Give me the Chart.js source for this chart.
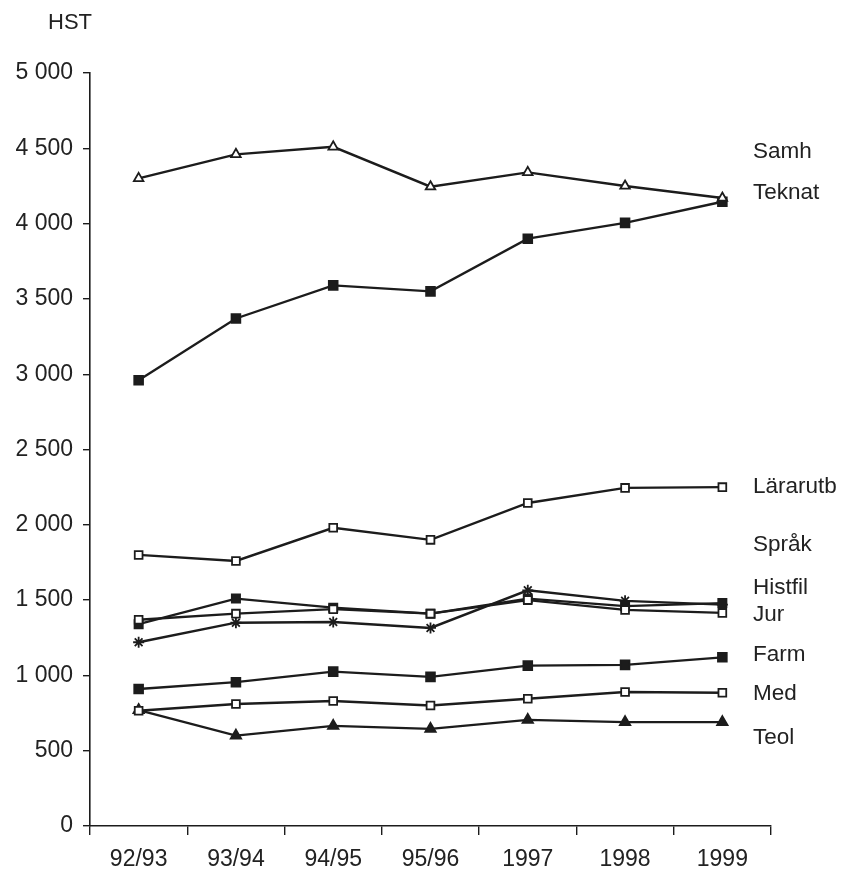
<!DOCTYPE html>
<html>
<head>
    <title>HST</title>
    <script src="https://cdn.jsdelivr.net/npm/chart.js"></script>
    <style>
        body {
            margin: 0;
            background: #ffffff;
        }
    </style>
</head>
<body>
<canvas id="hstChart" width="847" height="872"></canvas>
<script>
    const years = ['92/93', '93/94', '94/95', '95/96', '1997', '1998', '1999'];

    const samh = [4300, 4460, 4510, 4245, 4340, 4250, 4170];
    const teknat = [2960, 3370, 3590, 3550, 3900, 4005, 4145];
    const lararutb = [1800, 1760, 1980, 1900, 2145, 2245, 2250];
    const sprak = [1340, 1510, 1450, 1410, 1510, 1460, 1480];
    const histfil = [1220, 1350, 1355, 1315, 1565, 1495, 1470];
    const jur = [1370, 1410, 1440, 1410, 1500, 1435, 1415];
    const farm = [910, 955, 1025, 990, 1065, 1070, 1120];
    const med = [765, 810, 830, 800, 845, 890, 885];
    const teol = [770, 600, 665, 645, 705, 690, 690];

    // names written at the right end, with the HST level they sit at
    const seriesNames = ['Samh', 'Teknat', 'Lärarutb', 'Språk', 'Histfil', 'Jur', 'Farm', 'Med', 'Teol'];
    const nameLevels = [4475, 4205, 2250, 1865, 1580, 1405, 1140, 875, 585];

    const ink = '#1c1c1c';
    const font = "'Liberation Sans', Arial, sans-serif";

    function series(label, data, style, filled, radius) {
        return {
            label: label,
            data: data,
            borderColor: ink,
            borderWidth: 2.4,
            tension: 0,
            pointStyle: style,
            pointRadius: radius,
            pointBorderWidth: 1.8,
            pointBorderColor: ink,
            pointBackgroundColor: filled ? ink : '#ffffff'
        };
    }

    // text outside the plot: axis caption and the series names
    const textPlugin = {
        id: 'textPlugin',
        afterDraw(chart) {
            const c = chart.ctx;
            const y = chart.scales.y;
            c.save();
            c.fillStyle = '#222';
            c.textBaseline = 'middle';
            c.textAlign = 'left';
            c.font = '22px ' + font;
            c.fillText('HST', 48, 23);
            c.font = '22.5px ' + font;
            seriesNames.forEach((name, i) => {
                c.fillText(name, chart.chartArea.right - 18, y.getPixelForValue(nameLevels[i]));
            });
            c.restore();
        }
    };

    const ctx = document.getElementById('hstChart').getContext('2d');
    const hstChart = new Chart(ctx, {
        type: 'line',
        data: {
            labels: years,
            datasets: [
                series('Samh', samh, 'triangle', false, 5.5),
                series('Teknat', teknat, 'rect', true, 6.2),
                series('Lärarutb', lararutb, 'rect', false, 5.5),
                series('Jur', jur, 'rect', false, 5.5),
                series('Språk', sprak, 'rect', true, 5.8),
                series('Histfil', histfil, 'star', false, 5.5),
                series('Farm', farm, 'rect', true, 6.2),
                series('Med', med, 'rect', false, 5.5),
                series('Teol', teol, 'triangle', true, 6)
            ]
        },
        options: {
            responsive: false,
            animation: false,
            layout: {
                padding: {top: 73, right: 76, bottom: 0, left: 0}
            },
            plugins: {
                legend: {display: false},
                tooltip: {enabled: false}
            },
            scales: {
                x: {
                    offset: true,
                    grid: {
                        offset: true,
                        drawOnChartArea: false,
                        drawTicks: true,
                        tickLength: 9,
                        color: ink,
                        lineWidth: 1.4
                    },
                    border: {color: ink, width: 1.6},
                    ticks: {
                        color: '#222',
                        font: {family: font, size: 23},
                        padding: 11,
                        maxRotation: 0
                    },
                    afterFit(scale) {
                        scale.height = 46;
                    }
                },
                y: {
                    min: 0,
                    max: 5000,
                    grid: {
                        drawOnChartArea: false,
                        drawTicks: true,
                        tickLength: 7,
                        color: ink,
                        lineWidth: 1.4
                    },
                    border: {color: ink, width: 1.6},
                    ticks: {
                        stepSize: 500,
                        color: '#222',
                        font: {family: font, size: 23},
                        padding: 10,
                        callback: v => v >= 1000
                            ? Math.floor(v / 1000) + ' ' + String(v % 1000).padStart(3, '0')
                            : String(v)
                    },
                    afterFit(scale) {
                        scale.width = 90;
                    }
                }
            }
        },
        plugins: [textPlugin]
    });
</script>
</body>
</html>
